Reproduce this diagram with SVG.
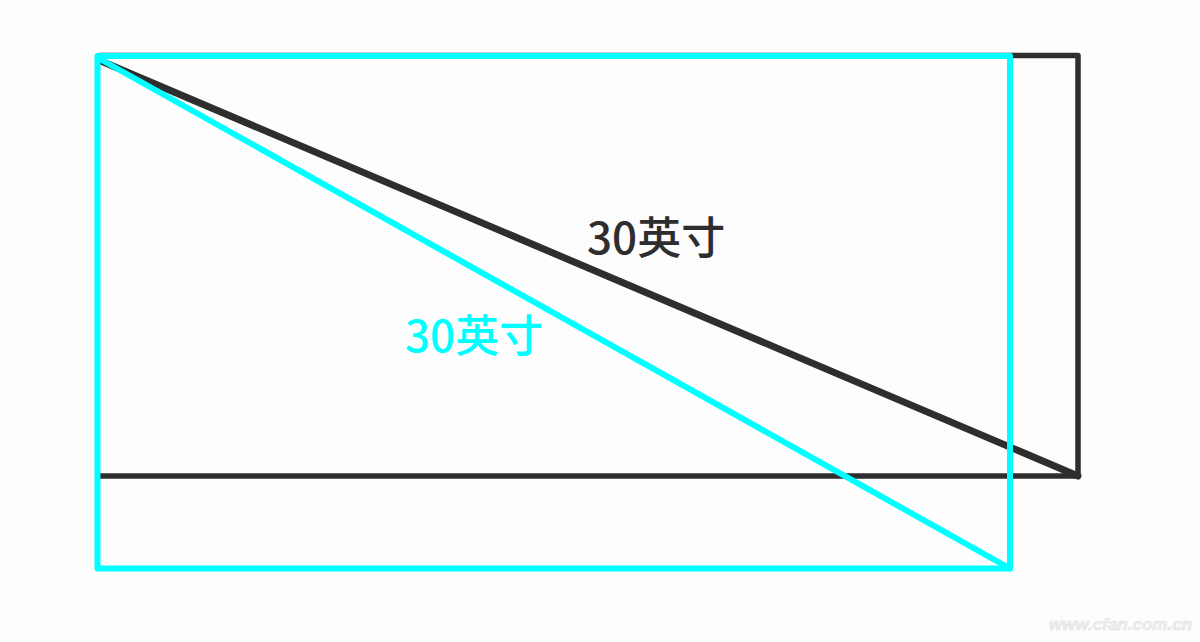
<svg xmlns="http://www.w3.org/2000/svg" width="1200" height="642" viewBox="0 0 1200 642">
<style>
.blk{fill:none;stroke:#2e2e2e;stroke-width:5.5;stroke-linecap:round;stroke-linejoin:round}
.cyn{fill:none;stroke:#00ffff;stroke-width:6;stroke-linecap:round;stroke-linejoin:round}
.lbl{font-family:"Noto Sans CJK SC","Noto Sans",sans-serif;font-size:44px;font-weight:500}
</style>
<rect width="1200" height="642" fill="#fefdfe"/>
<g id="black-screen">
<polyline class="blk" points="100,55.5 1078,55.5 1078,476 100,476"/>
<line class="blk" style="stroke-width:7" x1="101" y1="61" x2="1078" y2="476"/>
<text class="lbl" x="587" y="254" fill="#2e2e2e">30英寸</text>
</g>
<g id="cyan-screen">
<rect class="cyn" x="97.5" y="56" width="912.5" height="512.5"/>
<line class="cyn" x1="100" y1="59" x2="1010" y2="568.5"/>
<text class="lbl" x="405" y="352" fill="#00ffff">30英寸</text>
</g>
<text x="1192" y="630" text-anchor="end" font-family="Liberation Sans, sans-serif" font-size="17" font-style="italic" font-weight="bold" fill="#f0eff0" stroke="#e2e1e2" stroke-width="0.6">www.cfan.com.cn</text>
</svg>
